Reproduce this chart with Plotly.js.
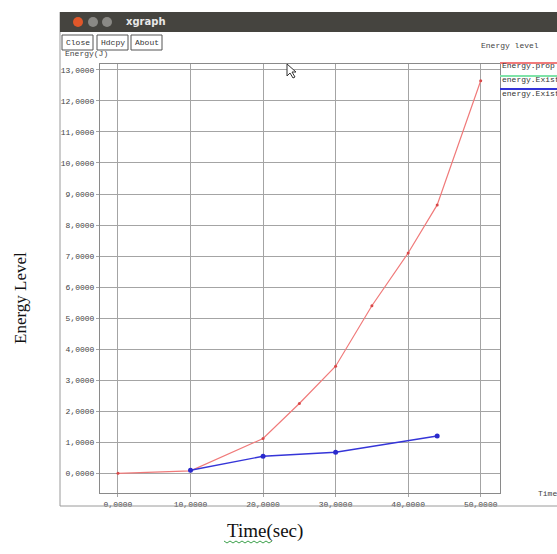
<!DOCTYPE html>
<html>
<head>
<meta charset="utf-8">
<script src="https://cdn.plot.ly/plotly-3.0.1.min.js"></script>
<style>html,body{margin:0;padding:0;background:#fff;}#chart{width:557px;height:554px;}</style>
</head>
<body>
<div id="chart"></div>
<script>
// ---- data ----
const seriesNames = ["Energy.prop", "energy.Existing", "energy.Existing"];
const seriesColors = ["#f07a7a", "#7fe3a8", "#3535d8"];
const propTime = [0, 10, 20, 25, 30, 35, 40, 44, 50];
const propEnergy = [0, 0.08, 1.12, 2.25, 3.45, 5.4, 7.1, 8.65, 12.65];
const existTime = [10, 20, 30, 44];
const existEnergy = [0.1, 0.55, 0.68, 1.2];
const xTicks = [0, 10, 20, 30, 40, 50];
const yTicks = [0,1,2,3,4,5,6,7,8,9,10,11,12,13];

// ---- pixel helpers (plot area 100..500 x 64..493) ----
const L = 100, R = 500, T = 64, B = 493;
const px = v => (v - L) / (R - L);
const py = v => (B - v) / (B - T);

const mono = "Liberation Mono, DejaVu Sans Mono, monospace";
const serif = "Liberation Serif, Times New Roman, serif";

const traces = [
  {x: propTime, y: propEnergy, name: seriesNames[0], mode: "lines+markers",
   line: {color: seriesColors[0], width: 1.2}, marker: {color: "#d84848", size: 3}},
  {x: existTime, y: existEnergy, name: seriesNames[2], mode: "lines+markers",
   line: {color: seriesColors[2], width: 1.4}, marker: {color: "#2a2acc", size: 5}}
];

const shapes = [];
const annotations = [];
// window frame
shapes.push({type:"line", xref:"paper", yref:"paper", x0:px(60), x1:px(60), y0:py(12), y1:py(506), line:{color:"#9a9a9a", width:1}});
shapes.push({type:"line", xref:"paper", yref:"paper", x0:px(60), x1:px(600), y0:py(506), y1:py(506), line:{color:"#9a9a9a", width:1}});
// title bar
shapes.push({type:"rect", xref:"paper", yref:"paper", x0:px(60), x1:px(600), y0:py(12), y1:py(32), fillcolor:"#45443f", line:{width:0}});
// window buttons
[[78,"#e0572a"],[93,"#8a8985"],[107,"#8a8985"]].forEach(([cx,c]) => {
  shapes.push({type:"circle", xref:"paper", yref:"paper", x0:px(cx-5), x1:px(cx+5), y0:py(17), y1:py(27), fillcolor:c, line:{width:0}});
});
annotations.push({xref:"paper", yref:"paper", x:px(124), y:py(22), xanchor:"left", yanchor:"middle", text:"<b>xgraph</b>", showarrow:false, font:{family:"DejaVu Sans, sans-serif", size:10, color:"#e8e8e8"}});
// toolbar buttons
[["Close",62,93],["Hdcpy",97,128],["About",131,162]].forEach(([t,a,b]) => {
  shapes.push({type:"rect", xref:"paper", yref:"paper", x0:px(a), x1:px(b), y0:py(35), y1:py(50), fillcolor:"#ffffff", line:{color:"#555", width:1}});
  annotations.push({xref:"paper", yref:"paper", x:px((a+b)/2), y:py(42.5), xanchor:"center", yanchor:"middle", text:t, showarrow:false, font:{family:mono, size:8, color:"#333"}});
});
annotations.push({xref:"paper", yref:"paper", x:px(63), y:py(54), xanchor:"left", yanchor:"middle", text:"Energy(J)", showarrow:false, font:{family:mono, size:8, color:"#444"}});
annotations.push({xref:"paper", yref:"paper", x:px(479), y:py(45), xanchor:"left", yanchor:"middle", text:"Energy level", showarrow:false, font:{family:mono, size:8, color:"#444"}});
annotations.push({xref:"paper", yref:"paper", x:px(536), y:py(493), xanchor:"left", yanchor:"middle", text:"Time", showarrow:false, font:{family:mono, size:8, color:"#444"}});
// legend (xgraph style: line above the label)
const legY = [[63,66],[76,80],[89,93]];
seriesNames.forEach((n,i) => {
  shapes.push({type:"line", xref:"paper", yref:"paper", x0:px(500), x1:px(600), y0:py(legY[i][0]), y1:py(legY[i][0]), line:{color:seriesColors[i], width:2}});
  annotations.push({xref:"paper", yref:"paper", x:px(500), y:py(legY[i][1]), xanchor:"left", yanchor:"middle", text:n, showarrow:false, font:{family:mono, size:8, color:"#333"}});
});
// outer document labels
annotations.push({xref:"paper", yref:"paper", x:px(20), y:py(298), xanchor:"center", yanchor:"middle", text:"Energy Level", textangle:-90, showarrow:false, font:{family:serif, size:17, color:"#111"}});
annotations.push({xref:"paper", yref:"paper", x:px(265), y:py(531), xanchor:"center", yanchor:"middle", text:"Time(sec)", showarrow:false, font:{family:serif, size:19, color:"#111"}});
// spell-check squiggle under "Time"
let sq = "M " + px(224) + "," + py(541);
for (let i = 1; i <= 16; i++) { sq += " L " + px(224 + i*3) + "," + py(i % 2 ? 543 : 541); }
shapes.push({type:"path", xref:"paper", yref:"paper", path:sq, line:{color:"#3aa04a", width:1}});
// mouse cursor
const cur = [[287,64],[287,76],[290,73],[293,78],[295,77],[292,72],[296,72]];
shapes.push({type:"path", xref:"paper", yref:"paper", path:"M " + cur.map(p => px(p[0]) + "," + py(p[1])).join(" L ") + " Z", fillcolor:"#ffffff", line:{color:"#333", width:1}});

const axisCommon = {
  showgrid: true, gridcolor: "#a4a4a4", gridwidth: 1,
  showline: true, linecolor: "#8a8a8a", linewidth: 1, mirror: true,
  ticks: "outside", ticklen: 3, tickcolor: "#a4a4a4",
  tickfont: {family: mono, size: 8, color: "#444"},
  tickformat: ".4f", zeroline: false, fixedrange: true
};

const layout = {
  width: 557, height: 554,
  margin: {l: L, r: 557 - R, t: T, b: 554 - B, pad: 0},
  paper_bgcolor: "#ffffff", plot_bgcolor: "#ffffff",
  separators: ",.",
  showlegend: false,
  xaxis: Object.assign({}, axisCommon, {range: [-2.48, 52.66], tickvals: xTicks}),
  yaxis: Object.assign({}, axisCommon, {range: [-0.635, 13.19], tickvals: yTicks}),
  shapes: shapes,
  annotations: annotations
};

Plotly.newPlot("chart", traces, layout, {displayModeBar: false, staticPlot: true});
</script>
</body>
</html>
